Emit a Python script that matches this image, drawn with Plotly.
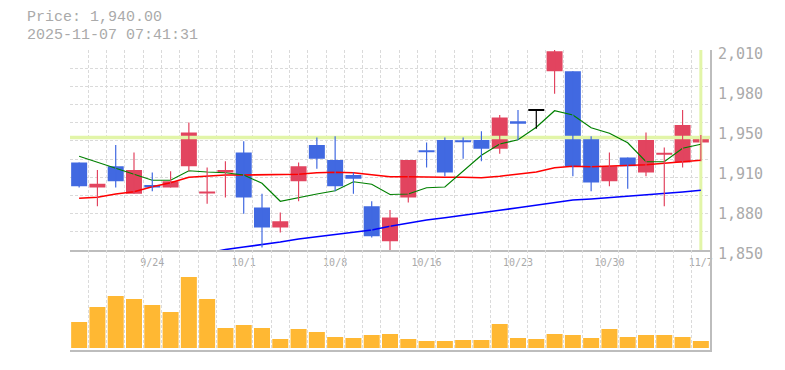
import plotly.graph_objects as go

# ---------------- data ----------------
dates = ["9/17", "9/18", "9/19", "9/22", "9/24", "9/25", "9/26", "9/29", "9/30", "10/1",
         "10/2", "10/3", "10/6", "10/7", "10/8", "10/9", "10/10", "10/14", "10/15", "10/16",
         "10/17", "10/20", "10/21", "10/22", "10/23", "10/24", "10/27", "10/28", "10/29", "10/30",
         "10/31", "11/4", "11/5", "11/6", "11/7"]
opens = [1920, 1900, 1917, 1895, 1902, 1900, 1917, 1896, 1912, 1928,
         1884, 1868, 1905, 1934, 1922, 1910, 1885, 1857, 1892, 1930,
         1938, 1938, 1938, 1931, 1953, 1962, 1993, 1993, 1941, 1905,
         1924, 1912, 1927, 1920, 1936]
highs = [1920, 1914, 1934, 1928, 1912, 1913, 1952, 1916, 1921, 1937,
         1895, 1880, 1920, 1940, 1941, 1912, 1889, 1882, 1922, 1936,
         1940, 1940, 1945, 1958, 1962, 1962, 2010, 1993, 1941, 1928,
         1924, 1944, 1932, 1962, 1942]
lows = [1900, 1885, 1900, 1895, 1897, 1900, 1913, 1887, 1892, 1879,
        1852, 1864, 1889, 1915, 1897, 1895, 1860, 1850, 1888, 1916,
        1909, 1923, 1921, 1927, 1938, 1947, 1975, 1909, 1897, 1901,
        1899, 1909, 1885, 1916, 1921]
closes = [1901, 1903, 1905, 1914, 1900, 1905, 1944, 1897, 1914, 1892,
          1868, 1873, 1917, 1923, 1901, 1907, 1861, 1876, 1922, 1929,
          1912, 1937, 1931, 1956, 1951, 1962, 2009, 1917, 1904, 1917,
          1917, 1938, 1928, 1950, 1940]
volumes = [26000, 41000, 52000, 49000, 43000, 36000, 71000, 49000, 20000, 23000,
           20000, 9000, 19000, 16000, 11000, 10000, 13000, 14000, 9000, 7000,
           7000, 8000, 8000, 24000, 10000, 9000, 14000, 13000, 10000, 19000,
           11000, 13000, 13000, 11000, 7000]
ma5 = [1925.0, 1920.2, 1915.4, 1910.0, 1905.8, 1905.8, 1913.4, 1912.4, 1911.8, 1910.0,
       1903.4, 1889.0, 1892.2, 1894.8, 1897.4, 1904.6, 1902.6, 1894.4, 1894.8, 1899.8,
       1900.4, 1913.4, 1925.8, 1934.8, 1938.2, 1948.2, 1961.4, 1958.0, 1947.8, 1943.4,
       1935.8, 1920.6, 1920.6, 1931.4, 1934.6]
ma25 = [1891.4, 1892.2, 1894.8, 1896.6, 1900.6, 1903.8, 1908.2, 1909.0, 1910.0, 1910.0,
        1910.0, 1910.0, 1910.6, 1911.8, 1912.2, 1911.8, 1910.0, 1908.6, 1908.6, 1908.2,
        1908.2, 1908.2, 1907.8, 1909.0, 1910.6, 1912.4, 1915.8, 1917.0, 1916.6, 1917.2,
        1917.2, 1918.2, 1919.4, 1920.4, 1921.8]
ma75 = [None, None, None, None, None, None, None, 1847.4, 1850.4, 1852.4,
        1854.2, 1856.4, 1858.8, 1860.6, 1862.6, 1864.2, 1866.0, 1869.0, 1871.5, 1874.0,
        1875.8, 1878.0, 1879.8, 1881.8, 1883.8, 1886.0, 1888.2, 1890.0, 1890.8, 1891.8,
        1893.0, 1893.8, 1894.8, 1896.4, 1897.8]
x_tick_labels = ["9/24", "10/1", "10/8", "10/16", "10/23", "10/30", "11/7"]
y_tick_values = [1850, 1882, 1914, 1946, 1978, 2010]
y_tick_labels = ["1,850", "1,880", "1,910", "1,950", "1,980", "2,010"]
price_range = [1850, 2010]
timestamp = "2025-11-07 07:41:31"

# ---------------- styles ----------------
UP = "#e2445f"
DOWN = "#4169e1"
EVEN = "#000000"
VOL = "#ffb833"
GRID = "#dadada"
AXIS = "#bdbdbd"
TXT = "#aaaaaa"
CUR = "#e2f5a8"
MONO = "Liberation Mono, monospace"
LBL = "DejaVu Sans Mono, monospace"

n = len(dates)
idx = list(range(n))
BODY_W = 0.875
MIN_BODY = 1.6

colors = []
for o, c in zip(opens, closes):
    colors.append(UP if c > o else (DOWN if c < o else EVEN))

fig = go.Figure()

# current price guide lines (bottom-most traces)
fig.add_trace(go.Scatter(x=[-0.5, n - 0.5], y=[closes[-1], closes[-1]], mode="lines",
                         line=dict(color=CUR, width=3.5), hoverinfo="skip"))
fig.add_trace(go.Scatter(x=[idx[-1], idx[-1]], y=price_range, mode="lines",
                         line=dict(color=CUR, width=3), hoverinfo="skip"))

# moving averages (below candles)
fig.add_trace(go.Scatter(x=idx, y=ma75, mode="lines", line=dict(color="#0000ff", width=1.6),
                         hoverinfo="skip", connectgaps=False))
fig.add_trace(go.Scatter(x=idx, y=ma25, mode="lines", line=dict(color="#ff0000", width=1.6),
                         hoverinfo="skip"))
fig.add_trace(go.Scatter(x=idx, y=ma5, mode="lines", line=dict(color="#008000", width=1.2),
                         hoverinfo="skip"))

# wicks
for col in (UP, DOWN, EVEN):
    wx, wy = [], []
    for i in idx:
        if colors[i] == col:
            wx += [i, i, None]
            wy += [lows[i], highs[i], None]
    if wx:
        fig.add_trace(go.Scatter(x=wx, y=wy, mode="lines", line=dict(color=col, width=1.2),
                                 hoverinfo="skip"))

# bodies
bases = [min(o, c) for o, c in zip(opens, closes)]
heights = [max(abs(c - o), MIN_BODY) for o, c in zip(opens, closes)]
bases = [b - (MIN_BODY / 2 if abs(c - o) < MIN_BODY else 0) for b, o, c in zip(bases, opens, closes)]
fig.add_trace(go.Bar(x=idx, y=heights, base=bases, width=BODY_W,
                     marker=dict(color=colors, line=dict(width=0)), hoverinfo="skip"))

# volume
fig.add_trace(go.Bar(x=idx, y=volumes, width=BODY_W, xaxis="x2", yaxis="y2",
                     marker=dict(color=VOL, line=dict(width=0)), hoverinfo="skip"))

# invisible trace so the label axis is drawn
fig.add_trace(go.Scatter(x=[idx[-1]], y=[closes[-1]], yaxis="y3", mode="markers",
                         marker=dict(opacity=0, size=1), hoverinfo="skip"))

grid_minor = dict(tickmode="linear", tick0=-0.5, dtick=1, showgrid=True, gridcolor=GRID,
                  griddash="3px,2px", gridwidth=1, ticks="")

# page body has an 8px margin: figure is sized so the plot area lands at x 70-710, y 50-350
fig.update_layout(
    width=777, height=362,
    margin=dict(l=62, r=75, t=42, b=20, autoexpand=False),
    paper_bgcolor="white", plot_bgcolor="white",
    showlegend=False, barmode="overlay", hovermode=False,
    xaxis=dict(domain=[0, 1], anchor="y", range=[-0.5, n - 0.5],
               tickmode="array", tickvals=[dates.index(l) for l in x_tick_labels],
               ticktext=x_tick_labels, showgrid=False, zeroline=False,
               showline=True, linecolor=AXIS, linewidth=1.5, ticks="",
               tickfont=dict(family=LBL, size=10, color=TXT),
               ticklabelstandoff=2,
               minor=grid_minor),
    xaxis2=dict(domain=[0, 1], anchor="y2", matches="x", showticklabels=False,
                showgrid=False, zeroline=False, showline=True, linecolor=AXIS,
                linewidth=1.5, ticks="", minor=grid_minor),
    yaxis=dict(domain=[1 / 3, 1], anchor="x", range=price_range, side="right",
               tickmode="linear", tick0=price_range[0], dtick=(price_range[1] - price_range[0]) / 11,
               showticklabels=False, showgrid=True, gridcolor=GRID, griddash="3px,2px",
               gridwidth=1, zeroline=False, showline=True, linecolor=AXIS, linewidth=1.5, ticks=""),
    yaxis3=dict(overlaying="y", anchor="x", side="right", range=price_range,
                tickmode="array", tickvals=y_tick_values, ticktext=y_tick_labels,
                showgrid=False, zeroline=False, showline=False, ticks="",
                ticklabelshift=4, ticklabelstandoff=7,
                tickfont=dict(family=LBL, size=15, color=TXT)),
    yaxis2=dict(domain=[0, 1 / 3], anchor="x2", range=[-2000, 98000], side="right",
                showticklabels=False, showgrid=False, zeroline=False, showline=True,
                linecolor=AXIS, linewidth=1.5, ticks=""),
)

fig.add_annotation(xref="paper", yref="paper", x=(26 - 70) / 640, y=(350 - 18) / 300,
                   xanchor="left", yanchor="middle", showarrow=False, borderpad=0,
                   text=f"Price: {closes[-1]:,.2f}",
                   font=dict(family=MONO, size=15, color=TXT))
fig.add_annotation(xref="paper", yref="paper", x=(26 - 70) / 640, y=(350 - 35.5) / 300,
                   xanchor="left", yanchor="middle", showarrow=False, borderpad=0,
                   text=timestamp, font=dict(family=MONO, size=15, color=TXT))

fig.write_html("out.html")
